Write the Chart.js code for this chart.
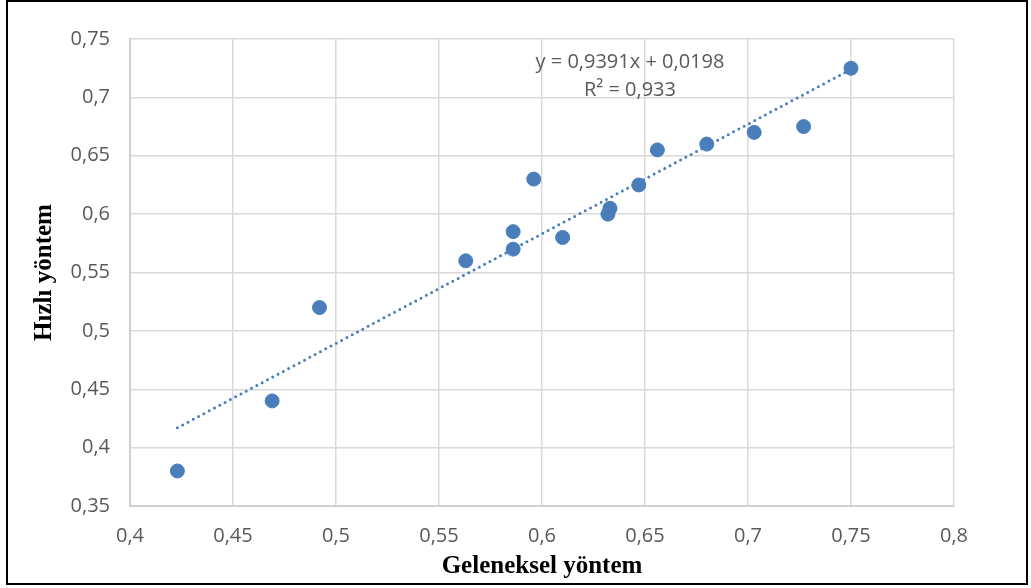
<html lang="tr">
<head>
  <meta charset="UTF-8">
  <title>Geleneksel ve hızlı yöntem</title>
  <script src="https://cdn.jsdelivr.net/npm/chart.js"></script>
  <style>
    body {
      margin: 0;
      background: #fff;
    }
    .wrap {
      position: relative;
      width: 1031px;
      height: 588px;
    }
    .frame {
      position: absolute;
      left: 6px;
      top: 0;
      width: 1018px;
      height: 581px;
      border: 2.5px solid #000;
      pointer-events: none;
    }
  </style>
</head>
<body>
  <div class="wrap">
    <canvas id="chart" width="1031" height="588"></canvas>
    <div class="frame"></div>
  </div>
  <script>
    // veriler
    const geleneksel = [0.423, 0.469, 0.492, 0.563, 0.586, 0.586, 0.596, 0.610, 0.632, 0.633, 0.647, 0.656, 0.680, 0.703, 0.727, 0.750];
    const hizli      = [0.380, 0.440, 0.520, 0.560, 0.585, 0.570, 0.630, 0.580, 0.600, 0.605, 0.625, 0.655, 0.660, 0.670, 0.675, 0.725];
    // trend çizgisinin uçları
    const trendX = [0.423, 0.750];
    const trendY = [0.417, 0.724];
    const xTicks = ['0,4', '0,45', '0,5', '0,55', '0,6', '0,65', '0,7', '0,75', '0,8'];
    const yTicks = ['0,35', '0,4', '0,45', '0,5', '0,55', '0,6', '0,65', '0,7', '0,75'];
    const eqText = ['y = 0,9391x + 0,0198', 'R² = 0,933'];

    const blue = '#4a7ebb';
    const gray = '#595959';
    const tickFont = { family: 'Open Sans', size: 20 };
    const titleFont = { family: 'Liberation Serif', size: 25, weight: 'bold' };

    // denklem etiketi
    const eqLabel = {
      id: 'eqLabel',
      afterDatasetsDraw(chart) {
        const { ctx, scales: { x, y } } = chart;
        ctx.save();
        ctx.fillStyle = gray;
        ctx.font = '20px "Open Sans"';
        ctx.textAlign = 'center';
        ctx.textBaseline = 'middle';
        ctx.fillText(eqText[0], x.getPixelForValue(0.6427), y.getPixelForValue(0.7300));
        ctx.fillText(eqText[1], x.getPixelForValue(0.6427), y.getPixelForValue(0.7060));
        ctx.restore();
      }
    };

    new Chart(document.getElementById('chart'), {
      type: 'scatter',
      data: {
        datasets: [{
          data: geleneksel.map((v, i) => ({ x: v, y: hizli[i] })),
          backgroundColor: blue,
          borderColor: blue,
          pointRadius: 7,
          borderWidth: 1
        }, {
          type: 'line',
          data: trendX.map((v, i) => ({ x: v, y: trendY[i] })),
          borderColor: blue,
          borderWidth: 3,
          borderDash: [0, 6],
          borderCapStyle: 'round',
          pointRadius: 0,
          fill: false
        }]
      },
      options: {
        responsive: false,
        animation: false,
        layout: { padding: { left: 0, right: 77, top: 39, bottom: 0 } },
        plugins: {
          legend: { display: false },
          tooltip: { enabled: false }
        },
        scales: {
          x: {
            type: 'linear',
            min: 0.4,
            max: 0.8,
            afterFit: s => { s.height = 82; },
            afterBuildTicks: s => { s.ticks = xTicks.map((_, i) => ({ value: 0.4 + i * 0.05 })); },
            ticks: {
              color: gray,
              font: tickFont,
              padding: 18,
              callback: (v, i) => xTicks[i]
            },
            grid: { color: '#d9d9d9', lineWidth: 1.5, drawTicks: false },
            border: { color: '#d0d0d0', width: 2 },
            title: {
              display: true,
              text: 'Geleneksel yöntem',
              color: '#000',
              font: titleFont,
              padding: { top: 6, bottom: 6 }
            }
          },
          y: {
            type: 'linear',
            min: 0.35,
            max: 0.75,
            afterFit: s => { s.width = 130; },
            afterBuildTicks: s => { s.ticks = yTicks.map((_, i) => ({ value: 0.35 + i * 0.05 })); },
            ticks: {
              color: gray,
              font: tickFont,
              padding: 20,
              callback: (v, i) => yTicks[i]
            },
            grid: { color: '#d9d9d9', lineWidth: 1.5, drawTicks: false },
            border: { color: '#d0d0d0', width: 2 },
            title: {
              display: true,
              text: 'Hızlı yöntem',
              color: '#000',
              font: titleFont,
              padding: { top: 30, bottom: 0 }
            }
          }
        }
      },
      plugins: [eqLabel]
    });
  </script>
</body>
</html>
